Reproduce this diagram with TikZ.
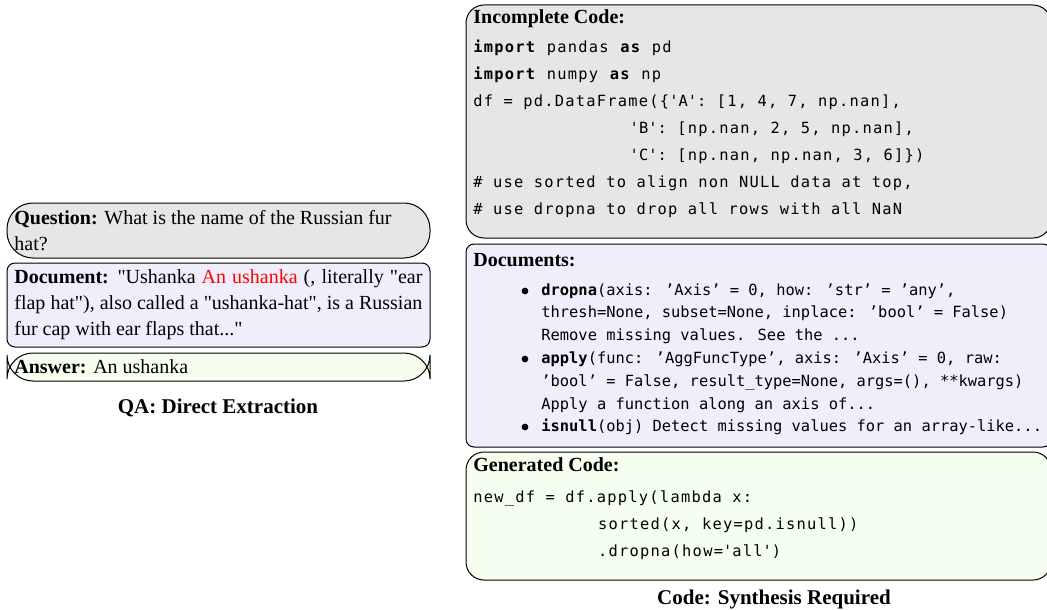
\documentclass[tikz,border=0pt]{standalone}
\usepackage{fontspec}
\setmainfont{Liberation Serif}
\newfontfamily\codefont[LetterSpace=8]{DejaVu Sans Mono}
\newfontfamily\docfont{DejaVu Sans Mono}
\newcommand\pyq{\textquotesingle}
\newcommand\dq{\textquotedbl}
\definecolor{boxgray}{HTML}{E6E6E6}
\definecolor{boxlav}{HTML}{EFEFFB}
\definecolor{boxgreen}{HTML}{F4FFF0}
\usetikzlibrary{positioning}

\begin{document}
\begin{tikzpicture}[x=0.5pt, y=-0.5pt,
    qbox/.style = {draw, line width=0.5pt, fill=boxgray, rounded corners=13pt},
    docbox/.style = {draw, line width=0.5pt, fill=boxlav, rounded corners=4pt},
    ansbox/.style = {draw, line width=0.5pt, fill=boxgreen, rounded corners=13pt},
    codebox/.style = {draw, line width=0.5pt, fill=boxgray, rounded corners=9pt},
    listbox/.style = {draw, line width=0.5pt, fill=boxlav, rounded corners=4pt},
    genbox/.style = {draw, line width=0.5pt, fill=boxgreen, rounded corners=9pt},
    txt/.style = {inner sep=0pt, align=left, font=\fontsize{10}{13}\selectfont},
    head/.style = {anchor=base west, inner sep=0pt, font=\fontsize{10}{12}\selectfont\bfseries},
    title/.style = {anchor=base, inner sep=0pt, font=\fontsize{10.5}{12}\selectfont\bfseries},
    code/.style = {anchor=north west, inner sep=0pt, align=left, font=\codefont\fontsize{7.7}{13.5}\selectfont},
    doclist/.style = {anchor=north west, inner sep=0pt, align=left, font=\docfont\fontsize{7.7}{11.4}\selectfont}]
      \path [use as bounding box, clip] (0,0) rectangle (1047,609);

      \foreach \s/\a/\b in {qbox/{7,203}/{430,258}, docbox/{7,263}/{430,347}, ansbox/{7,353}/{430,381},
                            codebox/{466,5}/{1051,238}, listbox/{466,244}/{1051,447}, genbox/{466,452}/{1051,580}}
               {
                 \draw [\s] (\a) rectangle (\b);
               }

      \node [txt, anchor=north west] (question) at (14,210)
        {\textbf{Question:} What is the name of the Russian fur\\hat?};
      \node [txt, anchor=north west] (document) at (14,269)
        {\makebox[204pt][s]{\textbf{Document:} \dq Ushanka \textcolor{red}{An ushanka} (, literally \dq ear}\\
         \makebox[204pt][s]{flap hat\dq), also called a \dq ushanka-hat\dq, is a Russian}\\
         fur cap with ear flaps that...\dq};
      \node [txt, anchor=base west] (answer) at (14,373) {\textbf{Answer:} An ushanka};
      \node [title] (qatitle) at (218,413) {QA: Direct Extraction};

      \node [head] (inhead) at (473,24) {Incomplete Code:};
      \node [code] (incode) at (473,40)
        {\textbf{import} pandas \textbf{as} pd\\
         \textbf{import} numpy \textbf{as} np\\
         df = pd.DataFrame(\{\pyq A\pyq: [1, 4, 7, np.nan],\\
         \phantom{xxxxxxxxxxxxxxx}\pyq B\pyq: [np.nan, 2, 5, np.nan],\\
         \phantom{xxxxxxxxxxxxxxx}\pyq C\pyq: [np.nan, np.nan, 3, 6]\})\\
         \# use sorted to align non NULL data at top,\\
         \# use dropna to drop all rows with all NaN};

      \node [head] (dochead) at (473,266) {Documents:};
      \node [doclist] (doclist) at (541,283)
        {\llap{$\bullet$\hspace{6pt}}\textbf{dropna}(axis: ’Axis’ = 0, how: ’str’ = ’any’,\\
         thresh=None, subset=None, inplace: ’bool’ = False)\\
         Remove missing values. See the ...\\
         \llap{$\bullet$\hspace{6pt}}\textbf{apply}(func: ’AggFuncType’, axis: ’Axis’ = 0, raw:\\
         ’bool’ = False, result\_type=None, args=(), **kwargs)\\
         Apply a function along an axis of...\\
         \llap{$\bullet$\hspace{6pt}}\textbf{isnull}(obj) Detect missing values for an array-like...};

      \node [head] (genhead) at (473,471) {Generated Code:};
      \node [code] (gencode) at (473,490)
        {new\_df = df.apply(lambda x:\\
         \phantom{xxxxxxxxxxxx}sorted(x, key=pd.isnull))\\
         \phantom{xxxxxxxxxxxx}.dropna(how=\pyq all\pyq)};
      \node [title] (codetitle) at (774,604) {Code: Synthesis Required};
\end{tikzpicture}
\end{document}
